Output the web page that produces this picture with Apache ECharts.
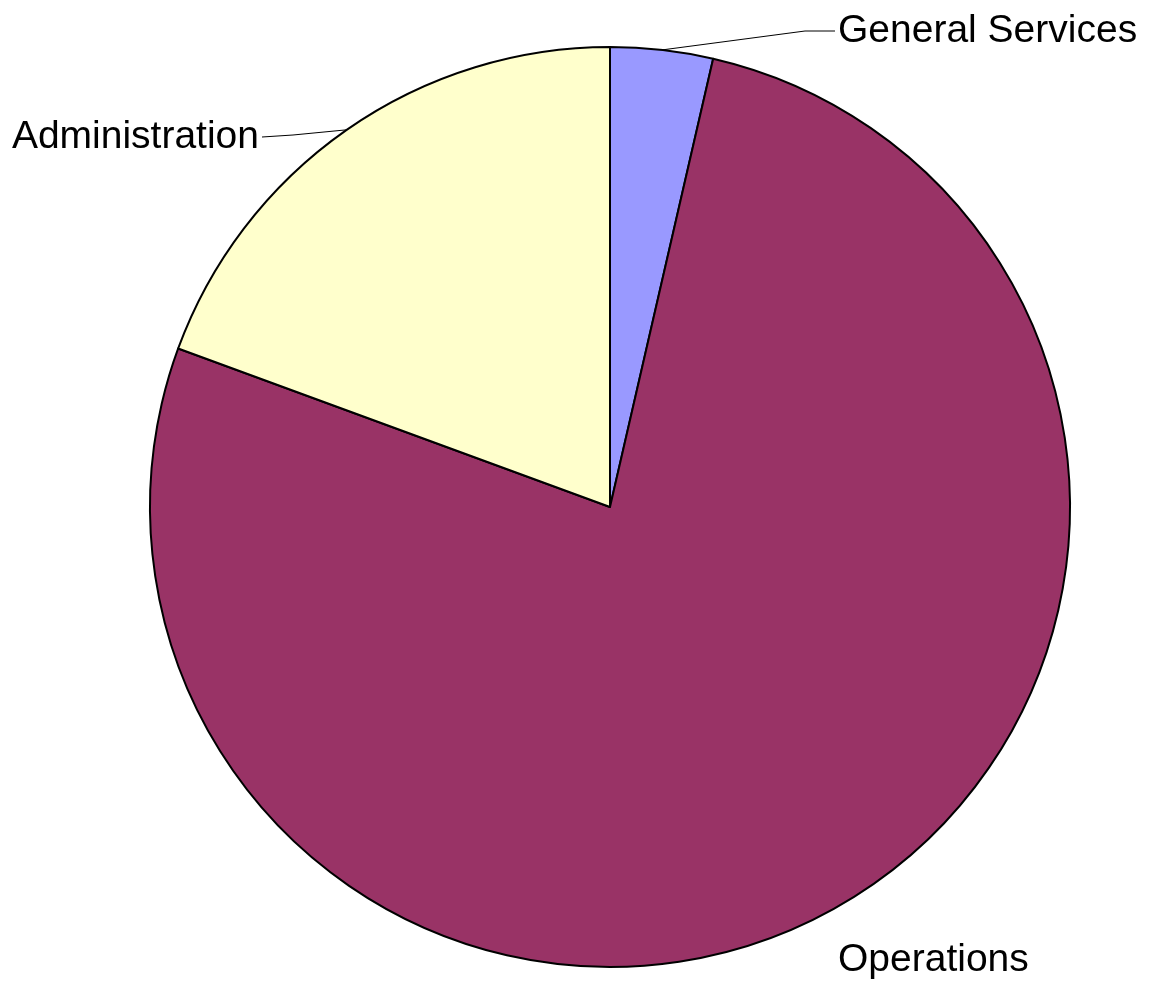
<!DOCTYPE html>
<html>
<head>
<meta charset="utf-8">
<style>
  html, body { margin: 0; padding: 0; background: #ffffff; }
  #chart { width: 1163px; height: 984px; }
</style>
<script src="https://cdn.jsdelivr.net/npm/echarts@6/dist/echarts.min.js"></script>
</head>
<body>
<div id="chart"></div>
<script>
// Budget share by division
const categories = ['General Services', 'Operations', 'Administration'];
const shares = [3.6, 77.0, 19.4];
const colors = ['#9999FF', '#993366', '#FFFFCC'];

// Label placement: text anchor plus the bend of the leader line
const labelSpots = [
  { x: 838, y: 31, align: 'left', bend: [805, 31], end: [835, 31] },
  { x: 838, y: 960, align: 'left', bend: null, end: null },
  { x: 259, y: 137, align: 'right', bend: [293, 135], end: [262, 137] }
];

const chart = echarts.init(document.getElementById('chart'), null, { renderer: 'canvas' });

chart.setOption({
  backgroundColor: '#ffffff',
  animation: false,
  series: [{
    type: 'pie',
    center: [610, 507],
    radius: [0, 460],
    startAngle: 90,
    clockwise: true,
    avoidLabelOverlap: false,
    itemStyle: { borderColor: '#000000', borderWidth: 2 },
    label: {
      show: true,
      position: 'outside',
      formatter: '{b}',
      color: '#000000',
      fontFamily: '"Liberation Sans", Arial, sans-serif',
      fontSize: 39
    },
    labelLine: {
      show: true,
      length: 10,
      length2: 10,
      lineStyle: { color: '#000000', width: 1 }
    },
    labelLayout: function (params) {
      const spot = labelSpots[params.dataIndex];
      const out = { x: spot.x, y: spot.y, align: spot.align, verticalAlign: 'middle' };
      if (spot.bend && params.labelLinePoints) {
        out.labelLinePoints = [params.labelLinePoints[0], spot.bend, spot.end];
      }
      return out;
    },
    emphasis: { disabled: true },
    data: categories.map((name, i) => ({
      name: name,
      value: shares[i],
      itemStyle: { color: colors[i] },
      labelLine: { show: labelSpots[i].bend !== null }
    }))
  }]
});
</script>
</body>
</html>
